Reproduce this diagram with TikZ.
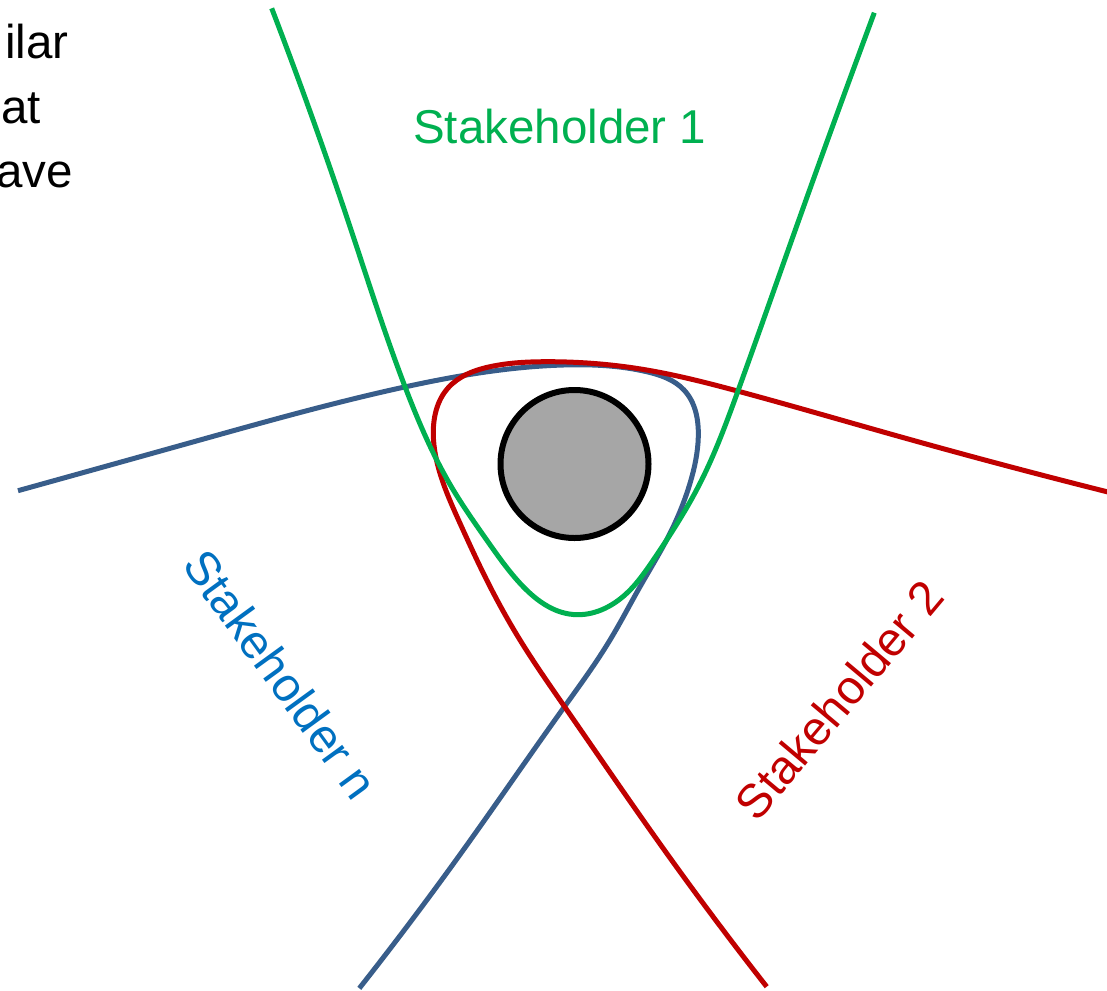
\documentclass[tikz,border=0pt]{standalone}
\usepackage{fontspec}
\setmainfont{Liberation Sans}
\usetikzlibrary{hobby}
\definecolor{sgreen}{RGB}{0,176,80}
\definecolor{sred}{RGB}{192,0,0}
\definecolor{sblue}{RGB}{56,93,138}
\definecolor{tblue}{RGB}{0,112,192}
\definecolor{coregray}{RGB}{166,166,166}
\tikzset{
  curve/.style={line width=5pt, line cap=butt, line join=round, use Hobby shortcut},
  lbl/.style={inner sep=0pt, font=\fontsize{47.5}{58}\selectfont},
}
\begin{document}
\begin{tikzpicture}[x=1pt,y=-1pt]
\useasboundingbox (0,0) rectangle (1107,990);
% stakeholder n (blue)
\draw[curve, sblue] (18,490.7) .. (200,440) .. (400,388) .. (563.3,365) .. (646.7,371.7)
 .. (684,390) .. (698.3,436.7) .. (690,483.3) .. (670,533.3) .. (640,586.7)
 .. (610,640) .. (563.3,708.3) .. (463.3,850) .. (359.3,988.3);
% stakeholder 2 (red)
\draw[curve, sred] (1110,492.5) .. (900,436.7) .. (740,391.7) .. (646.7,370) .. (546.7,361.7)
 .. (490,366.7) .. (448,388) .. (433.3,435) .. (440,473.3) .. (460,523.3) .. (486.7,580)
 .. (520,640) .. (565,707.3) .. (666.7,853.3) .. (766.7,986.7);
% stakeholder 1 (green)
\draw[curve, sgreen] (271.7,8.3) .. (350,226.7) .. (405,386.7) .. (453.3,490) .. (486.7,540)
 .. (520,583.3) .. (573.3,614.5) .. (626.7,593.3) .. (653.3,560)
 .. (700,483.3) .. (738.3,390) .. (800,216.7) .. (874.3,12.7);
% core
\node[circle, draw=black, fill=coregray, line width=6pt, minimum size=148pt, inner sep=0pt] (core) at (574.5,464) {};
% labels
\node[lbl, text=sgreen, anchor=base west] (s1) at (413,143) {Stakeholder 1};
\node[lbl, text=tblue, rotate=-54] (sn) at (281,674) {Stakeholder n};
\node[lbl, text=sred, rotate=50] (s2) at (839,700) {Stakeholder 2};
% clipped text at top left
\node[lbl, anchor=base west] (t1) at (5,59) {ilar};
\node[lbl, anchor=base west] (t2) at (1,123) {at};
\node[lbl, anchor=base west] (t3) at (-4,187) {ave};
\end{tikzpicture}
\end{document}
